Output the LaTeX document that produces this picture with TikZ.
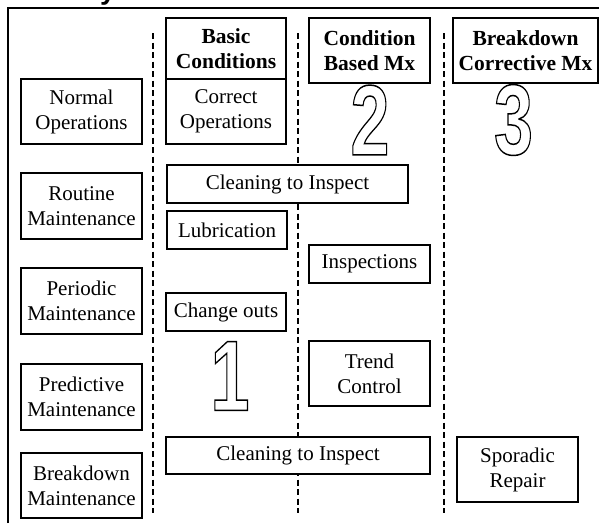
\documentclass[tikz,border=0pt]{standalone}
\usepackage{tikz}
\usepackage{fontspec}
\setmainfont{Liberation Serif}
\newfontfamily\digitfont{Liberation Sans}
\usetikzlibrary{positioning}
% hollow digits: stroke the glyph outline only
\newcommand\hollow[1]{\special{pdf:literal direct 1 Tr 1.5 w}#1\special{pdf:literal direct 0 Tr}}

\begin{document}
\begin{tikzpicture}[x=1pt, y=-1pt, line width=1.6pt,
  font=\fontsize{21}{25}\selectfont,
  cell/.style={draw, fill=white, align=center, inner sep=0pt, minimum width=121pt},
  head/.style={cell, font=\fontsize{21.5}{25}\selectfont\bfseries},
  divider/.style={dash pattern=on 6pt off 3.5pt, line width=1.4pt},
  bignum/.style={xscale=0.7, inner sep=0pt, font=\digitfont\bfseries\fontsize{100}{100}\selectfont}]

\useasboundingbox (0,0) rectangle (599,523);

% title, cut off at the top
\begin{scope}
\clip (0,0) rectangle (599,7.5);
\node[anchor=base, inner sep=0pt, font=\digitfont\bfseries\fontsize{28}{28}\selectfont] (title) at (108,-1) {y};
\end{scope}

\draw (8,523) -- (8,8) -- (599,8); %frame

\draw[divider] (153,33) -- (153,513);
\draw[divider] (298,33) -- (298,513);
\draw[divider] (444,33) -- (444,513);

% left column
\node[cell, minimum height=65pt] (normal) at (81.5,111.5) {Normal\\Operations};
\node[cell, minimum height=66pt] (routine) at (81.5,206) {Routine\\Maintenance};
\node[cell, minimum height=66pt] (periodic) at (81.5,301) {Periodic\\Maintenance};
\node[cell, minimum height=66pt] (predictive) at (81.5,397) {Predictive\\Maintenance};
\node[cell, minimum height=65pt] (breakdown) at (81.5,485.5) {Breakdown\\Maintenance};

% basic conditions
\node[head, minimum width=120pt, minimum height=61pt] (basic) at (226,48.5) {Basic\\Conditions};
\node[cell, minimum width=120pt, minimum height=65pt] (correct) at (226,111.5) {Correct\\Operations};
\node[cell, minimum width=241pt, minimum height=38pt] (cleantop) at (287.5,184) {Cleaning to Inspect};
\node[cell, minimum width=120pt, minimum height=38pt] (lube) at (227,230) {Lubrication};
\node[cell, minimum width=120pt, minimum height=38pt] (change) at (226,312) {Change outs};
\node[cell, minimum width=264pt, minimum height=37pt] (cleanbot) at (298,455.5) {Cleaning to Inspect};

% condition based
\node[head, minimum height=65pt] (cbm) at (369.5,50.5) {Condition\\Based Mx};
\node[cell, minimum height=38pt] (insp) at (369.5,264) {Inspections};
\node[cell, minimum height=65pt] (trend) at (369.5,373.5) {Trend\\Control};

% breakdown corrective
\node[head, minimum width=145pt, minimum height=65pt] (bcm) at (525.5,50.5) {Breakdown\\Corrective Mx};
\node[cell, minimum height=65pt] (sporadic) at (517.5,469.5) {Sporadic\\Repair};

% outline numbers
\node[bignum] (one) at (230,376) {\hollow{1}};
\node[bignum] (two) at (370,120) {\hollow{2}};
\node[bignum] (three) at (513.5,120) {\hollow{3}};

\end{tikzpicture}
\end{document}
